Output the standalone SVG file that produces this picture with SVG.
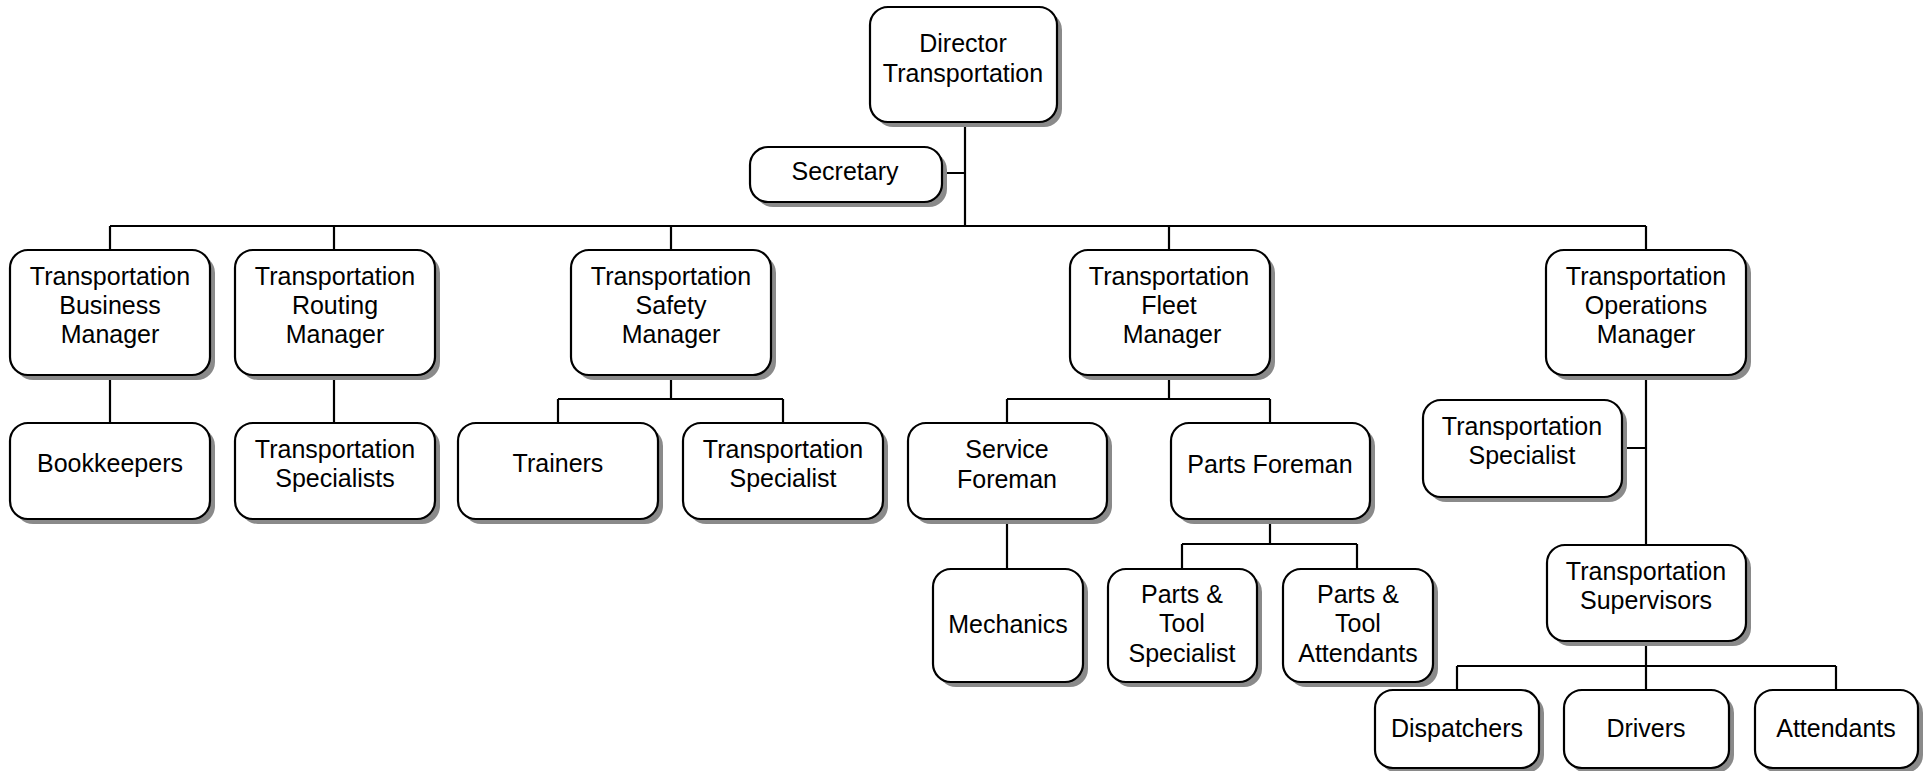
<svg xmlns="http://www.w3.org/2000/svg" width="1930" height="771" viewBox="0 0 1930 771">
<style>
.sh{fill:#8a8a8a;stroke:none}
.bx{fill:#fff;stroke:#000;stroke-width:2.2}
.t{font-family:"Liberation Sans",Arial,sans-serif;font-size:25px;fill:#000;text-anchor:middle}
.ln{fill:none;stroke:#000;stroke-width:2.2}
</style>
<rect width="1930" height="771" fill="#fff"/>
<g id="connectors" class="ln">
<path d="M965 122V226M942 173H965"/>
<path d="M110 226H1646M110 226V250M334 226V250M671 226V250M1169 226V250M1646 226V250"/>
<path d="M110 375V423M334 375V423"/>
<path d="M671 375V399M558 399H783M558 399V423M783 399V423"/>
<path d="M1169 375V399M1007 399H1270M1007 399V423M1270 399V423"/>
<path d="M1007 519V569"/>
<path d="M1270 519V544M1182 544H1357M1182 544V569M1357 544V569"/>
<path d="M1646 375V545M1622 448H1646"/>
<path d="M1646 641V690M1457 666H1836M1457 666V690M1836 666V690"/>
</g>
<g id="director"><rect class="sh" x="875" y="12" width="187" height="115" rx="18"/><rect class="bx" x="870" y="7" width="187" height="115" rx="18"/><text class="t" x="963" y="52">Director</text><text class="t" x="963" y="82">Transportation</text></g>
<g id="secretary"><rect class="sh" x="755" y="152" width="192" height="55" rx="18"/><rect class="bx" x="750" y="147" width="192" height="55" rx="18"/><text class="t" x="845" y="180">Secretary</text></g>
<g id="business-manager"><rect class="sh" x="15" y="255" width="200" height="125" rx="18"/><rect class="bx" x="10" y="250" width="200" height="125" rx="18"/><text class="t" x="110" y="285">Transportation</text><text class="t" x="110" y="314">Business</text><text class="t" x="110" y="343">Manager</text></g>
<g id="routing-manager"><rect class="sh" x="240" y="255" width="200" height="125" rx="18"/><rect class="bx" x="235" y="250" width="200" height="125" rx="18"/><text class="t" x="335" y="285">Transportation</text><text class="t" x="335" y="314">Routing</text><text class="t" x="335" y="343">Manager</text></g>
<g id="safety-manager"><rect class="sh" x="576" y="255" width="200" height="125" rx="18"/><rect class="bx" x="571" y="250" width="200" height="125" rx="18"/><text class="t" x="671" y="285">Transportation</text><text class="t" x="671" y="314">Safety</text><text class="t" x="671" y="343">Manager</text></g>
<g id="fleet-manager"><rect class="sh" x="1075" y="255" width="200" height="125" rx="18"/><rect class="bx" x="1070" y="250" width="200" height="125" rx="18"/><text class="t" x="1169" y="285">Transportation</text><text class="t" x="1169" y="314">Fleet</text><text class="t" x="1172" y="343">Manager</text></g>
<g id="operations-manager"><rect class="sh" x="1551" y="255" width="200" height="125" rx="18"/><rect class="bx" x="1546" y="250" width="200" height="125" rx="18"/><text class="t" x="1646" y="285">Transportation</text><text class="t" x="1646" y="314">Operations</text><text class="t" x="1646" y="343">Manager</text></g>
<g id="bookkeepers"><rect class="sh" x="15" y="428" width="200" height="96" rx="18"/><rect class="bx" x="10" y="423" width="200" height="96" rx="18"/><text class="t" x="110" y="472">Bookkeepers</text></g>
<g id="transportation-specialists"><rect class="sh" x="240" y="428" width="200" height="96" rx="18"/><rect class="bx" x="235" y="423" width="200" height="96" rx="18"/><text class="t" x="335" y="458">Transportation</text><text class="t" x="335" y="487">Specialists</text></g>
<g id="trainers"><rect class="sh" x="463" y="428" width="200" height="96" rx="18"/><rect class="bx" x="458" y="423" width="200" height="96" rx="18"/><text class="t" x="558" y="472">Trainers</text></g>
<g id="safety-specialist"><rect class="sh" x="688" y="428" width="200" height="96" rx="18"/><rect class="bx" x="683" y="423" width="200" height="96" rx="18"/><text class="t" x="783" y="458">Transportation</text><text class="t" x="783" y="487">Specialist</text></g>
<g id="service-foreman"><rect class="sh" x="913" y="428" width="199" height="96" rx="18"/><rect class="bx" x="908" y="423" width="199" height="96" rx="18"/><text class="t" x="1007" y="458">Service</text><text class="t" x="1007" y="488">Foreman</text></g>
<g id="parts-foreman"><rect class="sh" x="1176" y="428" width="199" height="96" rx="18"/><rect class="bx" x="1171" y="423" width="199" height="96" rx="18"/><text class="t" x="1270" y="473">Parts Foreman</text></g>
<g id="mechanics"><rect class="sh" x="938" y="574" width="150" height="113" rx="18"/><rect class="bx" x="933" y="569" width="150" height="113" rx="18"/><text class="t" x="1008" y="633">Mechanics</text></g>
<g id="parts-tool-specialist"><rect class="sh" x="1113" y="574" width="149" height="113" rx="18"/><rect class="bx" x="1108" y="569" width="149" height="113" rx="18"/><text class="t" x="1182" y="603">Parts &amp;</text><text class="t" x="1182" y="632">Tool</text><text class="t" x="1182" y="662">Specialist</text></g>
<g id="parts-tool-attendants"><rect class="sh" x="1288" y="574" width="150" height="113" rx="18"/><rect class="bx" x="1283" y="569" width="150" height="113" rx="18"/><text class="t" x="1358" y="603">Parts &amp;</text><text class="t" x="1358" y="632">Tool</text><text class="t" x="1358" y="662">Attendants</text></g>
<g id="operations-specialist"><rect class="sh" x="1428" y="405" width="199" height="97" rx="18"/><rect class="bx" x="1423" y="400" width="199" height="97" rx="18"/><text class="t" x="1522" y="435">Transportation</text><text class="t" x="1522" y="464">Specialist</text></g>
<g id="supervisors"><rect class="sh" x="1552" y="550" width="199" height="96" rx="18"/><rect class="bx" x="1547" y="545" width="199" height="96" rx="18"/><text class="t" x="1646" y="580">Transportation</text><text class="t" x="1646" y="609">Supervisors</text></g>
<g id="dispatchers"><rect class="sh" x="1380" y="695" width="164" height="78" rx="18"/><rect class="bx" x="1375" y="690" width="164" height="78" rx="18"/><text class="t" x="1457" y="737">Dispatchers</text></g>
<g id="drivers"><rect class="sh" x="1569" y="695" width="165" height="78" rx="18"/><rect class="bx" x="1564" y="690" width="165" height="78" rx="18"/><text class="t" x="1646" y="737">Drivers</text></g>
<g id="attendants"><rect class="sh" x="1760" y="695" width="163" height="78" rx="18"/><rect class="bx" x="1755" y="690" width="163" height="78" rx="18"/><text class="t" x="1836" y="737">Attendants</text></g>
</svg>
